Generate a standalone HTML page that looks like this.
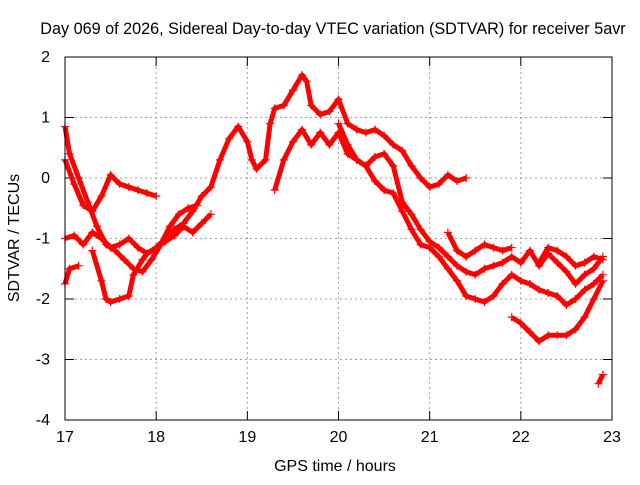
<!DOCTYPE html>
<html><head><meta charset="utf-8"><style>
body{margin:0;background:#fff}
svg text{font-family:"Liberation Sans",sans-serif;font-size:16px;fill:#000}
</style></head><body>
<svg id="c" width="640" height="480" xmlns="http://www.w3.org/2000/svg">
<rect width="640" height="480" fill="#fff"/>
<text x="333" y="34" text-anchor="middle" style="font-size:16.2px">Day 069 of 2026, Sidereal Day-to-day VTEC variation (SDTVAR) for receiver 5avr</text>
<text x="335" y="471" text-anchor="middle">GPS time / hours</text>
<text transform="translate(19,238) rotate(-90)" text-anchor="middle">SDTVAR / TECUs</text>
<g id="grid"></g><g id="marks"></g>
<rect x="65" y="57" width="547" height="363" fill="none" stroke="#000"/>
</svg>
<script>
const xTicks=[17,18,19,20,21,22,23];
const yTicks=[2,1,0,-1,-2,-3,-4];
const trackA=[[17.0,-1.0],[17.1,-0.95],[17.2,-1.1],[17.3,-0.9],[17.4,-1.0],[17.5,-1.15],[17.6,-1.1],[17.7,-1.0],[17.8,-1.15],[17.9,-1.25],[18.0,-1.15],[18.1,-1.0],[18.2,-0.85],[18.3,-0.75],[18.4,-0.55],[18.5,-0.3],[18.6,-0.15],[18.7,0.3],[18.8,0.65],[18.9,0.85],[19.0,0.6],[19.05,0.3],[19.1,0.15],[19.2,0.3],[19.25,0.9],[19.3,1.15],[19.4,1.2],[19.5,1.45],[19.6,1.7],[19.65,1.6],[19.7,1.2],[19.8,1.05],[19.9,1.1],[20.0,1.3],[20.1,0.9],[20.2,0.8],[20.3,0.75],[20.4,0.8],[20.5,0.7],[20.6,0.55],[20.7,0.45],[20.8,0.2],[20.9,0.0],[21.0,-0.15],[21.1,-0.1],[21.2,0.05],[21.3,-0.05],[21.4,0.0]];
const trackB=[[17.3,-1.2],[17.4,-1.7],[17.45,-2.0],[17.5,-2.05],[17.6,-2.0],[17.7,-1.95],[17.75,-1.6],[17.85,-1.35],[17.9,-1.25],[18.0,-1.15],[18.1,-1.05],[18.2,-0.95],[18.3,-0.8],[18.4,-0.9],[18.5,-0.75],[18.6,-0.6]];
const trackB2=[[19.3,-0.2],[19.4,0.3],[19.5,0.6],[19.6,0.8],[19.7,0.55],[19.8,0.75],[19.9,0.55],[20.0,0.75],[20.1,0.4],[20.2,0.3],[20.3,0.2],[20.4,-0.05],[20.5,-0.2],[20.6,-0.25],[20.7,-0.55],[20.8,-0.85],[20.9,-1.1],[21.0,-1.15],[21.1,-1.3],[21.2,-1.5],[21.3,-1.7],[21.4,-1.95],[21.5,-2.0],[21.6,-2.05],[21.7,-1.95],[21.8,-1.75],[21.9,-1.6],[22.0,-1.7],[22.1,-1.75],[22.2,-1.85],[22.3,-1.9],[22.4,-1.95],[22.5,-2.1],[22.6,-2.0],[22.7,-1.85],[22.8,-1.75],[22.9,-1.6]];
const trackC=[[17.0,0.3],[17.1,-0.1],[17.2,-0.45],[17.3,-0.55],[17.4,-0.3],[17.5,0.05],[17.6,-0.1],[17.7,-0.15],[17.8,-0.2],[17.9,-0.25],[18.0,-0.3]];
const trackC2=[[17.0,0.85],[17.05,0.4],[17.15,0.0],[17.25,-0.4],[17.35,-0.8],[17.45,-1.1],[17.55,-1.2],[17.65,-1.35],[17.75,-1.5],[17.85,-1.55],[17.95,-1.35],[18.05,-1.1],[18.15,-0.8],[18.25,-0.6],[18.35,-0.5],[18.45,-0.45]];
const trackD=[[20.0,0.9],[20.1,0.55],[20.2,0.3],[20.3,0.2],[20.4,0.35],[20.5,0.4],[20.6,0.2],[20.7,-0.4],[20.8,-0.6],[20.9,-0.85],[21.0,-1.05],[21.1,-1.15],[21.2,-1.3],[21.3,-1.45],[21.4,-1.55],[21.5,-1.6],[21.6,-1.5],[21.7,-1.45],[21.8,-1.4],[21.9,-1.3],[22.0,-1.4],[22.1,-1.2],[22.2,-1.45],[22.3,-1.25],[22.4,-1.4],[22.5,-1.55],[22.6,-1.75],[22.7,-1.6],[22.8,-1.5],[22.9,-1.3]];
const trackE=[[21.2,-0.9],[21.3,-1.2],[21.4,-1.3],[21.5,-1.2],[21.6,-1.1],[21.7,-1.15],[21.8,-1.2],[21.9,-1.15]];
const trackE2=[[22.2,-1.4],[22.3,-1.15],[22.4,-1.2],[22.5,-1.3],[22.6,-1.45],[22.7,-1.4],[22.8,-1.3],[22.9,-1.35]];
const trackF=[[21.9,-2.3],[22.0,-2.4],[22.1,-2.55],[22.2,-2.7],[22.3,-2.6],[22.4,-2.6],[22.5,-2.6],[22.6,-2.5],[22.7,-2.3],[22.8,-2.0],[22.9,-1.7]];
const trackG=[[22.85,-3.4],[22.9,-3.25]];
const trackH=[[17.0,-1.75],[17.05,-1.5],[17.15,-1.45]];
const tracks=[trackA,trackB,trackB2,trackC,trackC2,trackD,trackE,trackE2,trackF,trackG,trackH];
const X=t=>65+(t-17)*547/6, Y=v=>57+(2-v)*363/6;
const NS='http://www.w3.org/2000/svg';
const grid=document.getElementById('grid'), marks=document.getElementById('marks');
function mk(tag,a,p){const e=document.createElementNS(NS,tag);for(const k in a)e.setAttribute(k,a[k]);p.appendChild(e);return e;}
xTicks.forEach(t=>{const x=X(t);
 if(t>17&&t<23){const l=mk('line',{x1:x,y1:57,x2:x,y2:420,stroke:'#a0a0a0','stroke-dasharray':'2,3'},grid);
 
 }
 mk('line',{x1:x,y1:420,x2:x,y2:411,stroke:'#000'},grid);mk('line',{x1:x,y1:57,x2:x,y2:66,stroke:'#000'},grid);
 const tx=mk('text',{x:x,y:442,'text-anchor':'middle'},grid);tx.textContent=t;
 
 });
yTicks.forEach(v=>{const y=Y(v);
 if(v<2&&v>-4){const l=mk('line',{x1:65,y1:y,x2:612,y2:y,stroke:'#a0a0a0','stroke-dasharray':'2,3'},grid);
 
 }
 mk('line',{x1:65,y1:y,x2:74,y2:y,stroke:'#000'},grid);mk('line',{x1:603,y1:y,x2:612,y2:y,stroke:'#000'},grid);
 const tx=mk('text',{x:50,y:y+5,'text-anchor':'end'},grid);tx.textContent=v;
 
 });
tracks.forEach((tr,i)=>{
 const pl=mk('polyline',{points:tr.map(p=>X(p[0])+','+Y(p[1])).join(' '),fill:'none',stroke:'#f00','stroke-width':5,'stroke-linejoin':'round'},marks);
 
 
 let d='';tr.forEach(p=>{const x=X(p[0]),y=Y(p[1]);d+=`M${x-4},${y}h8M${x},${y-4}v8`;});
 const pt=mk('path',{d:d,stroke:'#f00','stroke-width':1.2},marks);
 
 
});
</script>
</body></html>
